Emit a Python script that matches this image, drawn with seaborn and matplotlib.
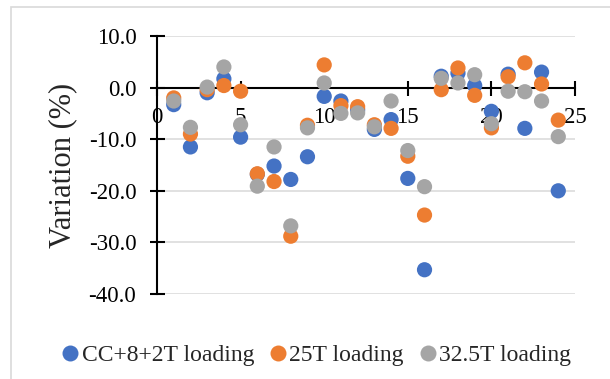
import matplotlib
matplotlib.use("Agg")
import matplotlib.pyplot as plt
from matplotlib.patches import Rectangle
import numpy as np
import pandas as pd
import seaborn as sns

# Sample index along the x axis
positions = list(range(1, 25))

# Variation (%) for each loading case
cc_8_2t = [-3.3, -11.5, -1.0, 1.7, -9.6, -16.8, -15.2, -17.8, -13.4, -1.7, -2.6, -4.3,
           -8.1, -6.2, -17.6, -35.3, 2.2, 2.8, 0.4, -4.6, 2.6, -7.9, 3.0, -20.0]
load_25t = [-2.0, -9.0, -0.4, 0.4, -0.7, -16.7, -18.2, -28.8, -7.3, 4.4, -3.5, -3.7,
            -7.2, -7.9, -13.3, -24.7, -0.4, 3.8, -1.5, -7.8, 2.1, 4.8, 0.7, -6.3]
load_32_5t = [-2.6, -7.7, 0.1, 4.0, -7.2, -19.1, -11.5, -26.8, -7.8, 0.9, -5.0, -4.9,
              -7.6, -2.6, -12.2, -19.2, 1.8, 0.9, 2.5, -7.0, -0.7, -0.8, -2.6, -9.5]

series_names = ["CC+8+2T loading", "25T loading", "32.5T loading"]
series_colors = ["#4472C4", "#ED7D31", "#A5A5A5"]

x_ticks = [0, 5, 10, 15, 20, 25]
x_tick_labels = ["0", "5", "10", "15", "20", "25"]
y_ticks = [10, 0, -10, -20, -30, -40]
y_tick_labels = ["10.0", "0.0", "-10.0", "-20.0", "-30.0", "-40.0"]

frames = []
for name, vals in zip(series_names, [cc_8_2t, load_25t, load_32_5t]):
    frames.append(pd.DataFrame({"x": positions, "y": vals, "series": name}))
data = pd.concat(frames, ignore_index=True)

sns.set_style("white")
plt.rcParams["font.family"] = ["Liberation Serif", "DejaVu Serif"]

fig = plt.figure(figsize=(6.10, 3.79), dpi=100)
ax = fig.add_axes([157 / 610, 85 / 379, 418 / 610, 258 / 379])

sns.scatterplot(data=data, x="x", y="y", hue="series", hue_order=series_names,
                palette=series_colors, s=120, linewidth=0, alpha=1, ax=ax, zorder=3)

ax.set_xlim(0, 25)
ax.set_ylim(-40, 10)

# Axes cross at the origin
ax.spines["left"].set_position(("data", 0))
ax.spines["bottom"].set_position(("data", 0))
ax.spines["top"].set_visible(False)
ax.spines["right"].set_visible(False)
for side in ("left", "bottom"):
    ax.spines[side].set_linewidth(1.5)
    ax.spines[side].set_color("black")
    ax.spines[side].set_zorder(2)

ax.set_xticks(x_ticks)
ax.set_xticklabels(x_tick_labels)
ax.set_yticks(y_ticks)
ax.set_yticklabels(y_tick_labels)
ax.tick_params(axis="both", which="major", bottom=True, left=True, top=False, right=False,
               direction="inout", length=10.8, width=1.5, colors="black",
               labelsize=16.5)
ax.tick_params(axis="x", pad=8.5)
ax.tick_params(axis="y", pad=9.5)

ax.yaxis.grid(True, color="#D9D9D9", linewidth=1.1)
ax.xaxis.grid(False)
ax.set_axisbelow(True)

ax.set_xlabel("")
ax.set_ylabel("Variation (%)", fontsize=22, labelpad=8)

handles, labels = ax.get_legend_handles_labels()
ax.get_legend().remove()
fig.legend(handles, labels, loc="center", bbox_to_anchor=(317 / 610, 1 - 355 / 379),
           ncol=3, frameon=False, fontsize=17, handlelength=0.6, handletextpad=0.2,
           columnspacing=0.7, markerscale=1.05, borderaxespad=0)

# Chart-area border
fig.patches.append(Rectangle((11 / 610, -0.1), 1.2, 1 - 7 / 379 + 0.1,
                             transform=fig.transFigure, fill=False,
                             edgecolor="#D9D9D9", linewidth=1.2))

fig.savefig("out.png", dpi=100)
